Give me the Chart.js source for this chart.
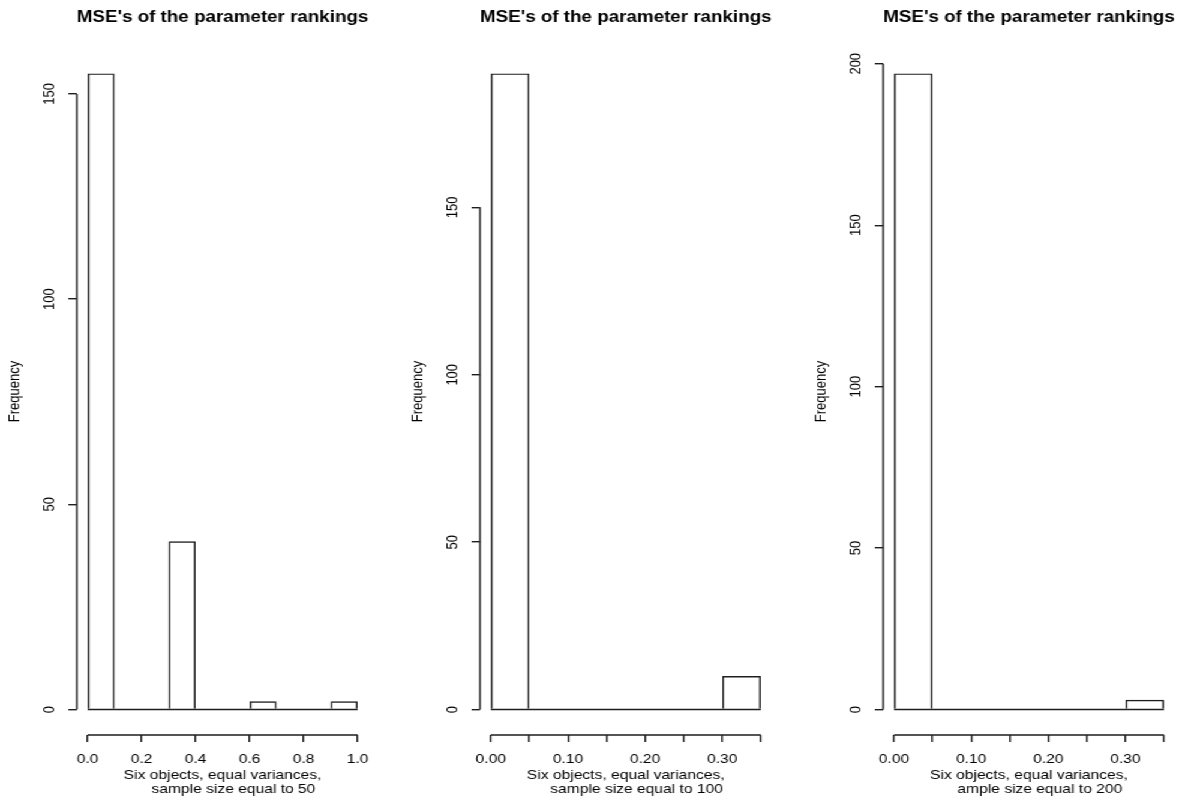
<!DOCTYPE html>
<html>
<head>
<meta charset="utf-8">
<script src="https://cdn.jsdelivr.net/npm/chart.js@4"></script>
<style>
  html, body { margin: 0; padding: 0; background: #fff; overflow: hidden; width: 1184px; height: 801px; }
  /* the original R device was stretched sideways, so draw narrow and widen */
  #wrap { position: absolute; left: 0; top: 0; width: 1008px; height: 801px; transform: scaleX(1.2); transform-origin: 0 0; }
  .panel { position: absolute; top: 0; width: 336px; height: 801px; }
</style>
</head>
<body>
<div id="wrap">
  <div class="panel" style="left:0px"><canvas id="h50"></canvas></div>
  <div class="panel" style="left:336px"><canvas id="h100"></canvas></div>
  <div class="panel" style="left:672px"><canvas id="h200"></canvas></div>
</div>
<script>
// histogram data
const titleText = "MSE's of the parameter rankings";

const breaks50 = [0, 0.1, 0.2, 0.3, 0.4, 0.5, 0.6, 0.7, 0.8, 0.9, 1.0];
const counts50 = [155, 0, 0, 41, 0, 0, 2, 0, 0, 2];
const xTicks50 = [0, 0.2, 0.4, 0.6, 0.8, 1.0];
const xLabels50 = ["0.0", "0.2", "0.4", "0.6", "0.8", "1.0"];
const yTicks50 = [0, 50, 100, 150];

const breaks100 = [0, 0.05, 0.1, 0.15, 0.2, 0.25, 0.3, 0.35];
const counts100 = [190, 0, 0, 0, 0, 0, 10];
const breaks200 = [0, 0.05, 0.1, 0.15, 0.2, 0.25, 0.3, 0.35];
const counts200 = [197, 0, 0, 0, 0, 0, 3];
const xTicksSmall = [0, 0.05, 0.1, 0.15, 0.2, 0.25, 0.3, 0.35];
const xLabelsSmall = ["0.00", "", "0.10", "", "0.20", "", "0.30", ""];
const yTicks100 = [0, 50, 100, 150];
const yTicks200 = [0, 50, 100, 150, 200];

const xTitle50 = ["Six objects, equal variances,", "     sample size equal to 50"];
const xTitle100 = ["Six objects, equal variances,", "     sample size equal to 100"];
const xTitle200 = ["Six objects, equal variances,", "     ample size equal to 200"];

const FONT = '"Liberation Sans", Arial, Helvetica, sans-serif';
const INK = "#1e1e1e";
const LW = 1.4;

Chart.defaults.font.family = FONT;
Chart.defaults.font.size = 13;
Chart.defaults.color = "#000";

// R style axes: the axis line only runs from the first to the last tick
const rAxes = {
  id: "rAxes",
  afterDraw(chart) {
    const { ctx, scales: { x, y } } = chart;
    const xt = x.ticks, yt = y.ticks;
    ctx.save();
    ctx.strokeStyle = INK;
    ctx.lineWidth = LW;
    ctx.beginPath();
    ctx.moveTo(x.getPixelForValue(xt[0].value), x.top);
    ctx.lineTo(x.getPixelForValue(xt[xt.length - 1].value), x.top);
    ctx.moveTo(y.right, y.getPixelForValue(yt[0].value));
    ctx.lineTo(y.right, y.getPixelForValue(yt[yt.length - 1].value));
    ctx.stroke();
    ctx.restore();
  }
};

function makeHist(canvasId, breaks, counts, xTicks, xLabels, yTicks, xTitle) {
  const lo = breaks[0], hi = breaks[breaks.length - 1];
  const top = Math.max(...counts);
  const bins = counts.map((c, i) => ({ x: (breaks[i] + breaks[i + 1]) / 2, y: c }));
  const xPad = (hi - lo) * 0.04;

  return new Chart(document.getElementById(canvasId), {
    type: "bar",
    data: {
      datasets: [
        {
          data: bins,
          backgroundColor: "rgba(0,0,0,0)",
          borderColor: INK,
          borderWidth: LW,
          borderSkipped: "start", // the baseline line below closes the bars
          inflateAmount: 0,
          barPercentage: 1,
          categoryPercentage: 1
        },
        {
          type: "line",
          data: [{ x: lo, y: 0 }, { x: hi, y: 0 }],
          borderColor: INK,
          borderWidth: LW,
          pointRadius: 0,
          tension: 0
        }
      ]
    },
    options: {
      responsive: true,
      maintainAspectRatio: false,
      animation: false,
      layout: { padding: { left: 0, right: 29, top: 0, bottom: 0 } },
      plugins: {
        legend: { display: false },
        tooltip: { enabled: false },
        title: {
          display: true,
          text: titleText,
          fullSize: false,
          font: { size: 16, weight: "bold" },
          padding: { top: 8.4, bottom: 20.4 }
        }
      },
      scales: {
        x: {
          type: "linear",
          offset: false,
          min: lo - xPad,
          max: hi + xPad,
          afterBuildTicks: (s) => { s.ticks = xTicks.map((v) => ({ value: v })); },
          afterFit: (s) => { s.height = 66; },
          ticks: {
            autoSkip: false,
            maxRotation: 0,
            padding: 10,
            callback: (v, i) => xLabels[i]
          },
          grid: { offset: false, drawOnChartArea: false, tickLength: 7, color: INK, lineWidth: LW },
          border: { display: false },
          title: {
            display: true,
            text: xTitle,
            font: { size: 13, lineHeight: 1.08 },
            padding: { top: 0, bottom: 5 }
          }
        },
        y: {
          min: -top * 0.04,
          max: top * 1.04,
          afterBuildTicks: (s) => { s.ticks = yTicks.map((v) => ({ value: v })); },
          afterFit: (s) => { s.width = 64; },
          ticks: {
            autoSkip: false,
            minRotation: 90,
            maxRotation: 90,
            crossAlign: "center",
            padding: 4.5
          },
          grid: { drawOnChartArea: false, tickLength: 7, color: INK, lineWidth: LW },
          border: { display: false },
          title: {
            display: true,
            text: "Frequency",
            font: { size: 13 },
            padding: { top: 4.7, bottom: 0 }
          }
        }
      }
    },
    plugins: [rAxes]
  });
}

makeHist("h50", breaks50, counts50, xTicks50, xLabels50, yTicks50, xTitle50);
makeHist("h100", breaks100, counts100, xTicksSmall, xLabelsSmall, yTicks100, xTitle100);
makeHist("h200", breaks200, counts200, xTicksSmall, xLabelsSmall, yTicks200, xTitle200);
</script>
</body>
</html>
